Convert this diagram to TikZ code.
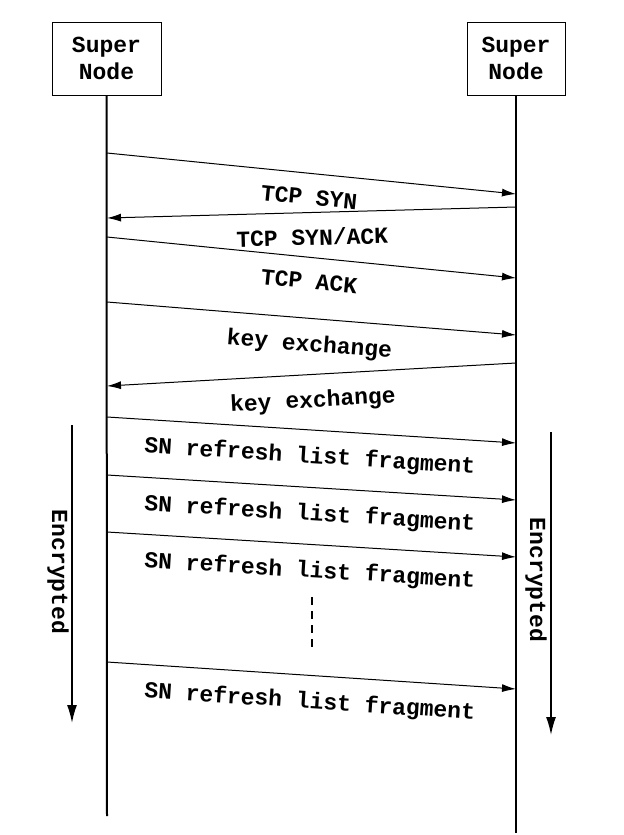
\documentclass[tikz,border=0pt]{standalone}
\usepackage{fontspec}
\setmonofont{Liberation Mono}
\usetikzlibrary{arrows.meta}

\begin{document}
\begin{tikzpicture}[x=0.5pt,y=-0.5pt,
    txt/.style={font=\ttfamily\bfseries\fontsize{11.5}{13.5}\selectfont},
    peer/.style={txt,draw,line width=0.5pt,minimum height=36.5pt,align=center,inner sep=0pt},
    life/.style={line width=1pt},
    msg/.style={line width=0.5pt,-{Latex[length=7pt,width=4pt]}},
    lbl/.style={txt,sloped,below=4.5pt},
    enc/.style={line width=0.8pt,-{Latex[length=9pt,width=5pt]}}]
    \useasboundingbox (0,0) rectangle (623,835);
    % Knoten
    \node[peer,minimum width=54.5pt] (sna) at (106.5,58.5) {Super\\Node};
    \node[peer,minimum width=49pt] (snb) at (516,58.5) {Super\\Node};
    \coordinate (enda) at (107,816);
    \coordinate (endb) at (516,833);
    \draw[life] (sna.south) -- (enda);
    \draw[life] (snb.south) -- (endb);
    % Verbindungsaufbau
    \coordinate (a1) at (107,153); \coordinate (b1) at (516,194);
    \coordinate (b2) at (516,207); \coordinate (a2) at (107,218);
    \coordinate (a3) at (107,237); \coordinate (b3) at (516,278);
    \draw[msg] (a1) -- (b1) node[lbl,midway] (syn) {TCP SYN};
    \draw[msg] (b2) -- (a2) node[lbl,midway] (synack) {TCP SYN/ACK};
    \draw[msg] (a3) -- (b3) node[lbl,midway] (ack) {TCP ACK};
    % Schluesselaustausch
    \coordinate (a4) at (107,302); \coordinate (b4) at (516,335);
    \coordinate (b5) at (516,363); \coordinate (a5) at (107,386);
    \draw[msg] (a4) -- (b4) node[lbl,midway] (keya) {key exchange};
    \draw[msg] (b5) -- (a5) node[lbl,midway] (keyb) {key exchange};
    % Liste
    \coordinate (a6) at (107,417); \coordinate (b6) at (516,443);
    \coordinate (a7) at (107,475); \coordinate (b7) at (516,500);
    \coordinate (a8) at (107,532); \coordinate (b8) at (516,557);
    \coordinate (a9) at (107,662); \coordinate (b9) at (516,689);
    \draw[msg] (a6) -- (b6) node[lbl,midway] (frag1) {SN refresh list fragment};
    \draw[msg] (a7) -- (b7) node[lbl,midway] (frag2) {SN refresh list fragment};
    \draw[msg] (a8) -- (b8) node[lbl,midway] (frag3) {SN refresh list fragment};
    \draw[msg] (a9) -- (b9) node[lbl,midway] (frag4) {SN refresh list fragment};
    \coordinate (dtop) at (312,597);
    \coordinate (dbot) at (312,650);
    \draw[line width=1pt,dash pattern=on 4pt off 3pt] (dtop) -- (dbot);
    % Verschluesselt
    \coordinate (ea1) at (72,425); \coordinate (ea2) at (72,723);
    \coordinate (eb1) at (551,432); \coordinate (eb2) at (551,735);
    \draw[enc] (ea1) -- (ea2);
    \draw[enc] (eb1) -- (eb2);
    \node[txt,rotate=-90] (enca) at (58,572) {Encrypted};
    \node[txt,rotate=-90] (encb) at (536,580) {Encrypted};
\end{tikzpicture}
\end{document}
